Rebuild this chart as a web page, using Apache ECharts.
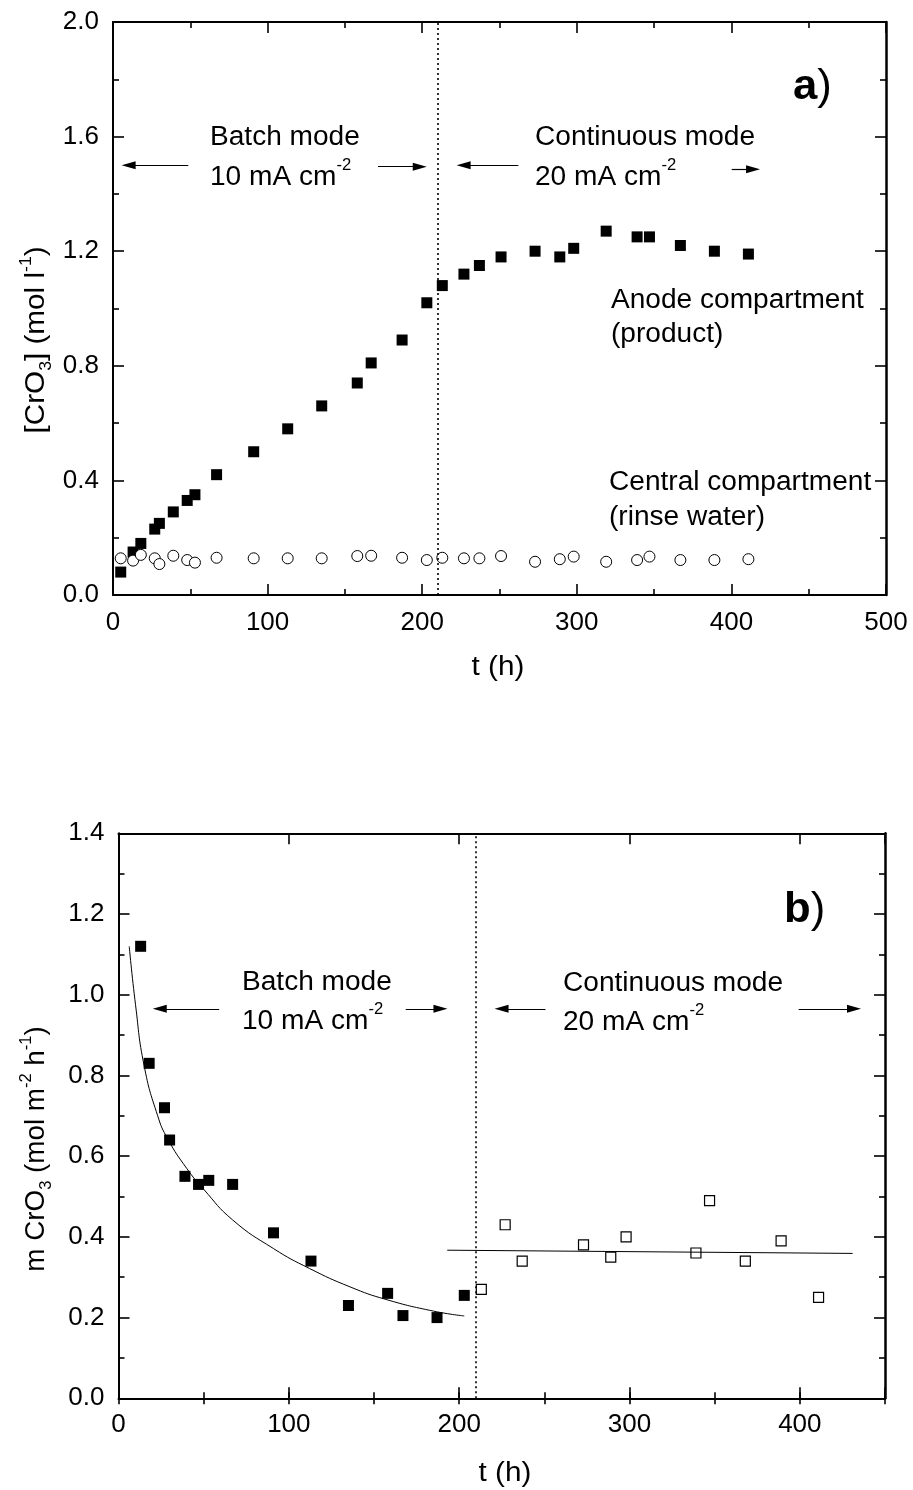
<!DOCTYPE html>
<html><head><meta charset="utf-8">
<script src="https://cdn.jsdelivr.net/npm/echarts@6/dist/echarts.min.js"></script>
<style>html,body{margin:0;padding:0;background:#fff}#c{width:913px;height:1490px}</style>
</head><body><div id="c"></div>
<script>
// ---------- data (panel a) ----------
const anodeTime = [5, 13, 18, 27, 30, 39, 48, 53, 67, 91, 113, 135, 158, 167, 187, 203, 213, 227, 237, 251, 273, 289, 298, 319, 339, 347, 367, 389, 411];
const anodeConc = [0.08, 0.15, 0.18, 0.23, 0.25, 0.29, 0.33, 0.35, 0.42, 0.50, 0.58, 0.66, 0.74, 0.81, 0.89, 1.02, 1.08, 1.12, 1.15, 1.18, 1.20, 1.18, 1.21, 1.27, 1.25, 1.25, 1.22, 1.20, 1.19];
const centralTime = [5, 13, 18, 27, 30, 39, 48, 53, 67, 91, 113, 135, 158, 167, 187, 203, 213, 227, 237, 251, 273, 289, 298, 319, 339, 347, 367, 389, 411];
const centralConc = [0.128, 0.12, 0.14, 0.128, 0.108, 0.137, 0.122, 0.113, 0.13, 0.128, 0.128, 0.128, 0.136, 0.137, 0.13, 0.122, 0.13, 0.128, 0.128, 0.136, 0.116, 0.125, 0.134, 0.116, 0.122, 0.134, 0.122, 0.122, 0.125];
// ---------- data (panel b) ----------
const batchTime = [13, 18, 27, 30, 39, 47, 53, 67, 91, 113, 135, 158, 167, 187, 203];
const batchRate = [1.12, 0.83, 0.72, 0.64, 0.55, 0.53, 0.54, 0.53, 0.41, 0.34, 0.23, 0.26, 0.205, 0.20, 0.255];
const contTime = [213, 227, 237, 273, 289, 298, 339, 347, 368, 389, 411];
const contRate = [0.27, 0.43, 0.34, 0.38, 0.35, 0.40, 0.36, 0.49, 0.34, 0.39, 0.25];
const batchFitTime = [6.3, 10, 15, 23, 29, 40, 50, 67, 91, 112, 136, 157, 185, 203];
const batchFitRate = [1.12, 0.975, 0.825, 0.70, 0.642, 0.57, 0.518, 0.442, 0.371, 0.322, 0.276, 0.245, 0.216, 0.204];
const contFitTime = [193, 431];
const contFitRate = [0.367, 0.359];
const modeSwitchTime = 210;
// axis ranges
const xRangeA = [0, 500], yRangeA = [0, 2.0];
const xRangeB = [0, 450], yRangeB = [0, 1.4];

const zip = (a, b) => a.map((v, i) => [v, b[i]]);
const FONT = '"Liberation Sans", Arial, Helvetica, sans-serif';
const BLACK = '#000';

function axisCommon(extra) {
  return Object.assign({
    type: 'value',
    axisLine: { show: true, onZero: false, lineStyle: { color: BLACK, width: 2 } },
    axisTick: { show: true, inside: true, length: 11, lineStyle: { color: BLACK, width: 1.6 } },
    minorTick: { show: true, splitNumber: 2, length: 6, lineStyle: { color: BLACK, width: 1.6 } },
    splitLine: { show: false },
    axisLabel: { show: false, color: BLACK, fontSize: 26, fontFamily: FONT, margin: 12 },
  }, extra);
}
function withLabels(ax, fmt, margin) {
  ax.axisLabel = Object.assign({}, ax.axisLabel, { show: true, formatter: fmt, margin: margin });
  return ax;
}

const xAxes = [
  withLabels(axisCommon({ gridIndex: 0, position: 'bottom', min: xRangeA[0], max: xRangeA[1], interval: 100 }),
    v => String(v), 15),
  axisCommon({ gridIndex: 0, position: 'top', min: xRangeA[0], max: xRangeA[1], interval: 100 }),
  withLabels(axisCommon({ gridIndex: 1, position: 'bottom', min: xRangeB[0], max: xRangeB[1], interval: 100,
    minorTick: { show: false } }),
    v => (v % 100 === 0 ? String(v) : ''), 14),
  axisCommon({ gridIndex: 1, position: 'bottom', min: xRangeB[0], max: xRangeB[1], interval: 50,
    axisLine: { show: false }, minorTick: { show: false },
    axisTick: { show: true, inside: true, length: 6, lineStyle: { color: BLACK, width: 1.6 } } }),
  axisCommon({ gridIndex: 1, position: 'top', min: xRangeB[0], max: xRangeB[1], interval: 100, minorTick: { show: false } }),
  axisCommon({ gridIndex: 1, position: 'top', min: xRangeB[0], max: xRangeB[1], interval: 50,
    axisLine: { show: false }, minorTick: { show: false },
    axisTick: { show: true, inside: true, length: 6, lineStyle: { color: BLACK, width: 1.6 } } }),
];
const yAxes = [
  withLabels(axisCommon({ gridIndex: 0, position: 'left', min: yRangeA[0], max: yRangeA[1], interval: 0.4 }),
    v => v.toFixed(1), 14),
  axisCommon({ gridIndex: 0, position: 'right', min: yRangeA[0], max: yRangeA[1], interval: 0.4,
    axisLine: { show: true, onZero: false, lineStyle: { color: BLACK, width: 2.5 } } }),
  withLabels(axisCommon({ gridIndex: 1, position: 'left', min: yRangeB[0], max: yRangeB[1], interval: 0.2 }),
    v => v.toFixed(1), 14),
  axisCommon({ gridIndex: 1, position: 'right', min: yRangeB[0], max: yRangeB[1], interval: 0.2,
    axisLine: { show: true, onZero: false, lineStyle: { color: BLACK, width: 2.5 } } }),
];

const dotted = {
  silent: true, symbol: ['none', 'none'], label: { show: false },
  lineStyle: { color: BLACK, type: [2, 3], width: 1.6 },
  data: [{ xAxis: modeSwitchTime }]
};
const HEAD = [8, 14];
function arrows(list) {
  return {
    silent: true, symbol: ['none', 'triangle'], label: { show: false },
    lineStyle: { color: BLACK, type: 'solid', width: 1.2 },
    itemStyle: { color: BLACK },
    data: list.map(a => [{ coord: [a[0], a[2]] }, { coord: [a[1], a[3]], symbolSize: HEAD }])
  };
}
// arrows: [tailT, headT, tailY, headY]
const arrowsA = [[48.7, 10.1, 1.5, 1.5], [171.4, 198.4, 1.495, 1.495], [262.2, 226.8, 1.5, 1.5], [400.2, 414, 1.486, 1.486]];
const arrowsB = [[59.1, 24.2, 0.965, 0.965], [168.6, 189, 0.965, 0.965], [250.7, 224.9, 0.965, 0.965], [399.3, 431.8, 0.965, 0.965]];

const supS = { fontSize: 16, fontFamily: FONT, lineHeight: 17, verticalAlign: 'top', fill: BLACK };
const subS = { fontSize: 16, fontFamily: FONT, lineHeight: 18, verticalAlign: 'bottom', fill: BLACK };
function label(x, y, text, lh, opts) {
  return Object.assign({
    type: 'text', x: x, y: y, scaleX: 1.04, silent: true,
    style: { text: text, fontSize: 27, fontFamily: FONT, fill: BLACK, lineHeight: lh, align: 'left', verticalAlign: 'top',
      rich: { sup: supS, sub: subS, b: { fontSize: 42, fontFamily: FONT, fontWeight: 'bold', fill: BLACK, lineHeight: 42 },
              p: { fontSize: 42, fontFamily: FONT, fill: BLACK, lineHeight: 42 } } }
  }, opts || {});
}
function title(x, y, text, rot, sx) {
  return { type: 'text', x: x, y: y, rotation: rot, scaleX: sx, silent: true,
    style: { text: text, fontSize: 27, fontFamily: FONT, fill: BLACK, lineHeight: 36,
      align: 'center', verticalAlign: 'middle',
      rich: { sup: Object.assign({}, supS, { lineHeight: 13 }), sub: subS } } };
}
const graphics = [
  label(210, 118, 'Batch mode\n10 mA cm{sup|-2}', 40),
  label(535, 118, 'Continuous mode\n20 mA cm{sup|-2}', 40),
  label(611, 284, 'Anode compartment\n(product)', 34),
  label(609, 465, 'Central compartment\n(rinse water)', 35),
  label(793, 66, '{b|a}{p|)}', 42),
  label(242, 963, 'Batch mode\n10 mA cm{sup|-2}', 39),
  label(563, 964, 'Continuous mode\n20 mA cm{sup|-2}', 39),
  label(784, 889, '{b|b}{p|)}', 42),
  title(37, 340, '[CrO{sub|3}] (mol l{sup|-1})', Math.PI / 2, 1.1),
  title(37, 1149, 'm CrO{sub|3} (mol m{sup|-2} h{sup|-1})', Math.PI / 2, 1.03),
  title(498, 668, 't (h)', 0, 1.1),
  title(505, 1474, 't (h)', 0, 1.1),
];

const chart = echarts.init(document.getElementById('c'), null, { renderer: 'canvas' });
chart.setOption({
  animation: false,
  backgroundColor: '#fff',
  textStyle: { fontFamily: FONT, color: BLACK },
  grid: [
    { left: 113, top: 22, width: 773, height: 573, containLabel: false },
    { left: 118.5, top: 833.3, width: 766.5, height: 565, containLabel: false },
  ],
  xAxis: xAxes,
  yAxis: yAxes,
  graphic: graphics,
  series: [
    { name: 'Anode compartment', type: 'scatter', xAxisIndex: 0, yAxisIndex: 0, data: zip(anodeTime, anodeConc),
      symbol: 'rect', symbolSize: 11, itemStyle: { color: BLACK, opacity: 1 }, markLine: dotted },
    { name: 'Central compartment', type: 'scatter', xAxisIndex: 0, yAxisIndex: 0, data: zip(centralTime, centralConc),
      symbol: 'circle', symbolSize: 11, itemStyle: { color: '#fff', borderColor: BLACK, borderWidth: 1, opacity: 1 }, markLine: arrows(arrowsA) },
    { name: 'Batch fit', type: 'line', xAxisIndex: 2, yAxisIndex: 2, data: zip(batchFitTime, batchFitRate),
      smooth: 0.5, showSymbol: false, symbol: 'none', lineStyle: { color: BLACK, width: 1 } },
    { name: 'Continuous fit', type: 'line', xAxisIndex: 2, yAxisIndex: 2, data: zip(contFitTime, contFitRate),
      showSymbol: false, symbol: 'none', lineStyle: { color: BLACK, width: 1 } },
    { name: 'Batch mode', type: 'scatter', xAxisIndex: 2, yAxisIndex: 2, data: zip(batchTime, batchRate),
      symbol: 'rect', symbolSize: 11, itemStyle: { color: BLACK, opacity: 1 }, markLine: dotted },
    { name: 'Continuous mode', type: 'scatter', xAxisIndex: 2, yAxisIndex: 2, data: zip(contTime, contRate),
      symbol: 'rect', symbolSize: 10, itemStyle: { color: '#fff', borderColor: BLACK, borderWidth: 1.2, opacity: 1 }, markLine: arrows(arrowsB) },
  ]
});
</script></body></html>
